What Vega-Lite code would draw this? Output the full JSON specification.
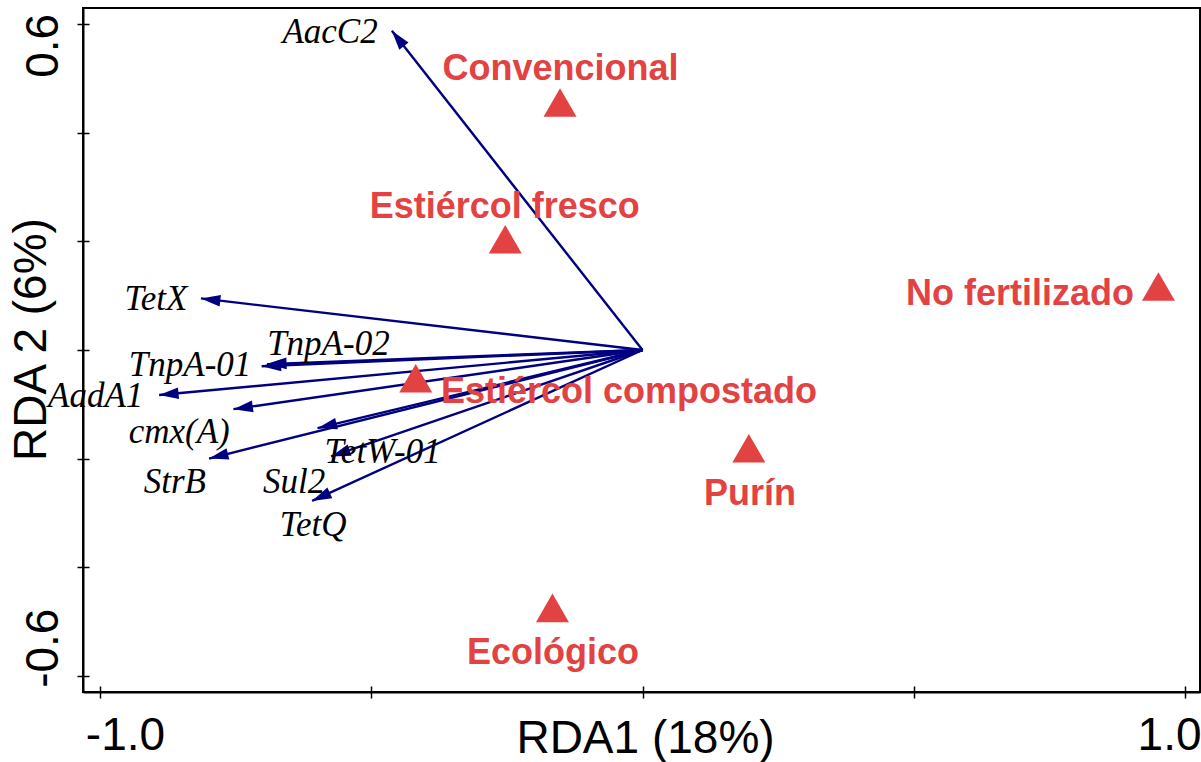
{
  "$schema": "https://vega.github.io/schema/vega-lite/v6.json",
  "width": 1117,
  "height": 684,
  "autosize": "none",
  "padding": {"left": 83, "top": 8, "right": 1, "bottom": 70},
  "background": "white",
  "config": {
    "view": {"stroke": "black", "strokeWidth": 2},
    "axis": {
      "grid": false,
      "domainColor": "black",
      "domainWidth": 2,
      "tickColor": "black",
      "tickWidth": 1.5,
      "labelColor": "black",
      "titleColor": "black",
      "labelFont": "Liberation Sans",
      "titleFont": "Liberation Sans",
      "labelFontSize": 46,
      "titleFontSize": 46,
      "titleFontWeight": "normal",
      "labelFlush": false,
      "labelOverlap": false
    }
  },
  "datasets": {
    "genes": [
      {"gene": "AacC2", "x": -0.462, "y": 0.588, "lx": -0.576, "ly": 0.566},
      {"gene": "TetX", "x": -0.814, "y": 0.095, "lx": -0.897, "ly": 0.074},
      {"gene": "TnpA-02", "x": -0.692, "y": -0.026, "lx": -0.579, "ly": -0.010},
      {"gene": "TnpA-01", "x": -0.702, "y": -0.030, "lx": -0.834, "ly": -0.047},
      {"gene": "AadA1", "x": -0.891, "y": -0.083, "lx": -1.008, "ly": -0.105},
      {"gene": "cmx(A)", "x": -0.754, "y": -0.109, "lx": -0.854, "ly": -0.171},
      {"gene": "StrB", "x": -0.799, "y": -0.200, "lx": -0.862, "ly": -0.263},
      {"gene": "TetW-01", "x": -0.599, "y": -0.144, "lx": -0.479, "ly": -0.208},
      {"gene": "Sul2", "x": -0.574, "y": -0.196, "lx": -0.642, "ly": -0.263},
      {"gene": "TetQ", "x": -0.609, "y": -0.278, "lx": -0.607, "ly": -0.343}
    ],
    "treatments": [
      {"name": "Convencional", "x": -0.152, "y": 0.456, "lx": -0.151, "ly": 0.497},
      {"name": "Estiércol fresco", "x": -0.253, "y": 0.204, "lx": -0.254, "ly": 0.243},
      {"name": "No fertilizado", "x": 0.951, "y": 0.117, "lx": 0.696, "ly": 0.083},
      {"name": "Estiércol compostado", "x": -0.418, "y": -0.052, "lx": -0.025, "ly": -0.098},
      {"name": "Purín", "x": 0.196, "y": -0.181, "lx": 0.198, "ly": -0.286},
      {"name": "Ecológico", "x": -0.166, "y": -0.475, "lx": -0.165, "ly": -0.578}
    ]
  },
  "resolve": {"axis": {"x": "independent", "y": "independent"}},
  "layer": [
    {
      "data": {"name": "genes"},
      "mark": {"type": "rule", "color": "#000080", "strokeWidth": 2.4},
      "encoding": {
        "x": {
          "field": "x", "type": "quantitative",
          "scale": {"domain": [-1.0313, 1.0276], "zero": false, "nice": false},
          "axis": {
            "orient": "bottom",
            "values": [-1, -0.5, 0, 0.5, 1],
            "tickSize": 6,
            "labelExpr": "datum.value > 0.9 ? '1.0' : datum.value < -0.9 ? '-1.0' : ''",
            "labelAlign": "center",
            "labelBaseline": "alphabetic",
            "labelPadding": 51,
            "labelOffset": {"condition": {"test": "datum.value < 0", "value": 25}, "value": -16},
            "title": "RDA1 (18%)",
            "titleBaseline": "alphabetic",
            "titleY": 60,
            "titleX": 562
          }
        },
        "y": {
          "field": "y", "type": "quantitative",
          "scale": {"domain": [-0.63, 0.63], "zero": false, "nice": false},
          "axis": {
            "orient": "left",
            "values": [-0.6, -0.4, -0.2, 0, 0.2, 0.4, 0.6],
            "tickSize": 6,
            "labelExpr": "datum.value > 0.5 ? '0.6' : datum.value < -0.5 ? '-0.6' : ''",
            "labelAngle": -90,
            "labelAlign": "center",
            "labelBaseline": "alphabetic",
            "labelPadding": 20,
            "labelOffset": {"condition": {"test": "datum.value > 0", "value": 21}, "value": -28},
            "title": "RDA 2 (6%)",
            "titleAngle": -90,
            "titleBaseline": "alphabetic",
            "titleAlign": "center",
            "titleX": -38,
            "titleY": 331
          }
        },
        "x2": {"datum": 0},
        "y2": {"datum": 0}
      }
    },
    {
      "data": {"name": "genes"},
      "transform": [
        {"calculate": "(atan2(-datum.y, datum.x) * 180 / PI + 360) % 360", "as": "angle"}
      ],
      "mark": {"type": "point", "shape": "M0,0L-2,-0.6L-2,0.6Z", "filled": true, "size": 380, "color": "#000080", "opacity": 1},
      "encoding": {
        "x": {"field": "x", "type": "quantitative", "axis": {"orient": "bottom", "values": [-1, -0.5, 0, 0.5, 1], "tickSize": -6, "labels": false, "domain": false, "title": null}},
        "y": {"field": "y", "type": "quantitative", "axis": {"orient": "left", "values": [-0.6, -0.4, -0.2, 0, 0.2, 0.4, 0.6], "tickSize": -6, "labels": false, "domain": false, "title": null}},
        "angle": {"field": "angle", "type": "quantitative", "scale": null}
      }
    },
    {
      "data": {"name": "genes"},
      "mark": {"type": "text", "font": "Liberation Serif", "fontStyle": "italic", "fontSize": 35, "align": "center", "baseline": "alphabetic", "color": "black"},
      "encoding": {
        "x": {"field": "lx", "type": "quantitative", "axis": null},
        "y": {"field": "ly", "type": "quantitative", "axis": null},
        "text": {"field": "gene"}
      }
    },
    {
      "data": {"name": "treatments"},
      "mark": {"type": "point", "shape": "triangle-up", "filled": true, "size": 1089, "color": "#e34242", "opacity": 1},
      "encoding": {
        "x": {"field": "x", "type": "quantitative", "axis": null},
        "y": {"field": "y", "type": "quantitative", "axis": null}
      }
    },
    {
      "data": {"name": "treatments"},
      "mark": {"type": "text", "font": "Liberation Sans", "fontWeight": "bold", "fontSize": 36, "align": "center", "baseline": "alphabetic", "color": "#e34242"},
      "encoding": {
        "x": {"field": "lx", "type": "quantitative", "axis": null},
        "y": {"field": "ly", "type": "quantitative", "axis": null},
        "text": {"field": "name"}
      }
    }
  ]
}
